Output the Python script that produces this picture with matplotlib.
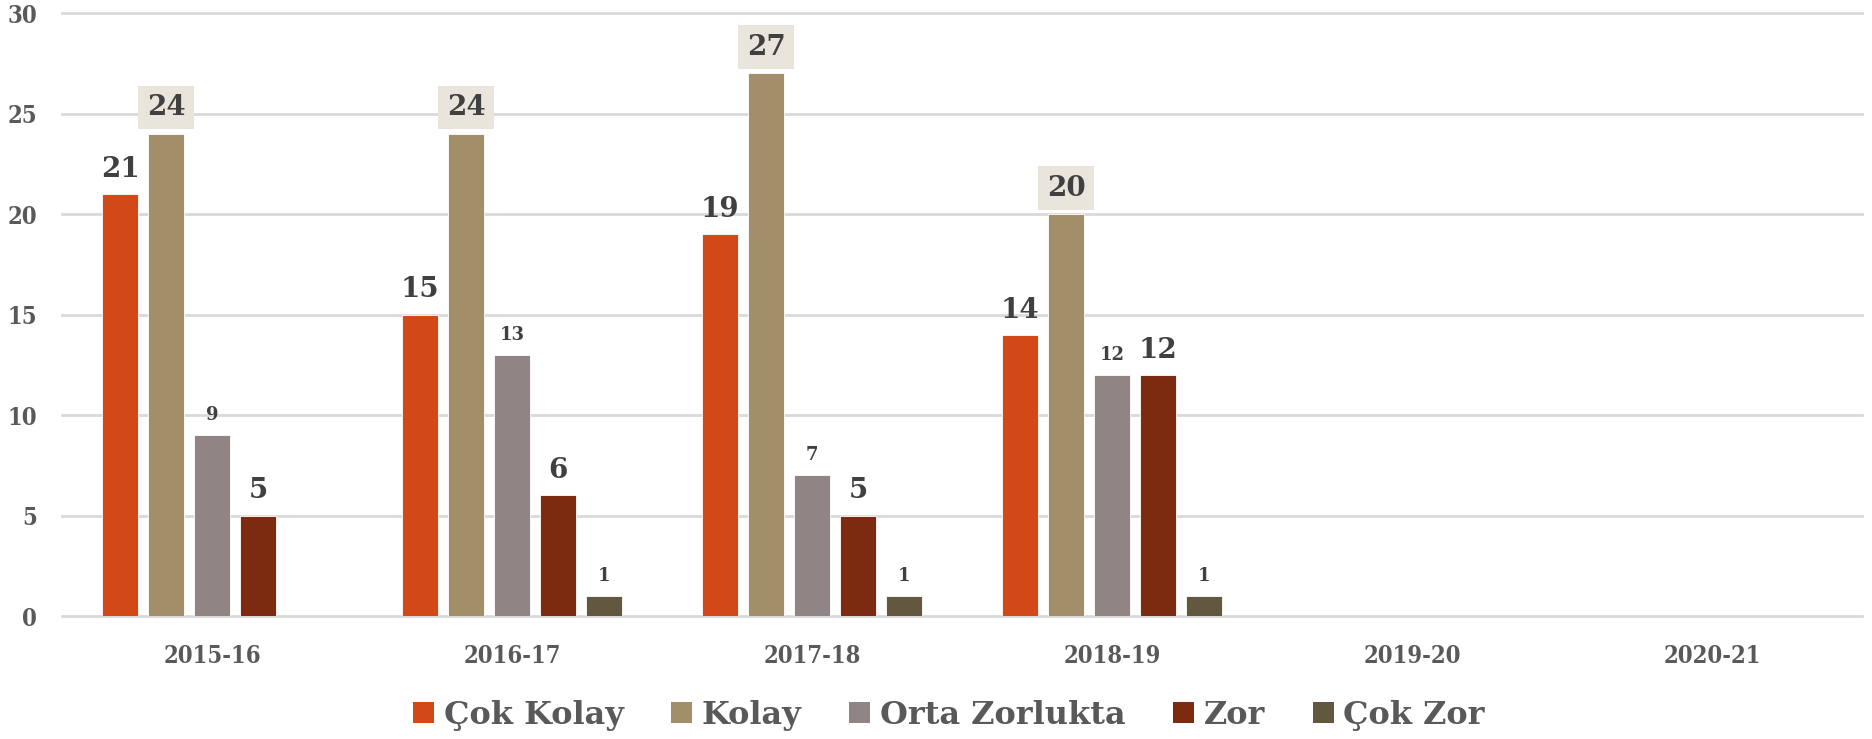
import numpy as np
import matplotlib
matplotlib.use("Agg")
import matplotlib.pyplot as plt
from matplotlib.patches import Patch

# --- data ---
years = ["2015-16", "2016-17", "2017-18", "2018-19", "2019-20", "2020-21"]
series = ["Çok Kolay", "Kolay", "Orta Zorlukta", "Zor", "Çok Zor"]
cok_kolay = [21, 15, 19, 14, np.nan, np.nan]
kolay = [24, 24, 27, 20, np.nan, np.nan]
orta = [9, 13, 7, 12, np.nan, np.nan]
zor = [5, 6, 5, 12, np.nan, np.nan]
cok_zor = [np.nan, 1, 1, 1, np.nan, np.nan]
values = [cok_kolay, kolay, orta, zor, cok_zor]

# --- style ---
COLORS = ["#d24817", "#a38e6a", "#918485", "#7d2b10", "#625840"]
C_GRID = "#d9d9d9"
C_TICK = "#595959"
C_LABEL = "#404040"
FONT = "DejaVu Serif"
# label style per series: (fontsize, boxed)
LABEL_STYLE = [(20, False), (20, True), (13, False), (20, False), (13, False)]

fig = plt.figure(figsize=(18.72, 7.39), dpi=100)
ax = fig.add_axes([0.0331, 0.1664, 0.9616, 0.816])

x = np.arange(len(years))
pitch = 0.153
width = 0.12
for i, (vals, col) in enumerate(zip(values, COLORS)):
    off = (i - 2) * pitch
    ax.bar(x + off, vals, width=width, color=col, edgecolor="white",
           linewidth=0.6, zorder=3, label=series[i])
    fs, boxed = LABEL_STYLE[i]
    for xi, v in zip(x, vals):
        if np.isnan(v):
            continue
        kw = {}
        if boxed:
            kw["bbox"] = dict(boxstyle="square,pad=0.3", fc="#e9e5dc", ec="none")
        ax.annotate(f"{int(v)}", (xi + off, v), xytext=(0, 9 if boxed else 8),
                    textcoords="offset points", ha="center", va="bottom",
                    fontsize=fs, fontweight="bold", color=C_LABEL,
                    family=FONT, zorder=5, **kw)

ax.set_xlim(-0.5, len(years) - 0.5)
ax.set_ylim(0, 30)
ax.set_yticks(range(0, 31, 5))
ax.set_xticks(x)
ax.set_xticklabels(years)
ax.grid(axis="y", color=C_GRID, linewidth=2, zorder=0)
ax.set_axisbelow(True)
for gl in ax.get_ygridlines():
    gl.set_clip_on(False)
for s in ax.spines.values():
    s.set_visible(False)
ax.tick_params(length=0, colors=C_TICK, labelsize=17)
ax.tick_params(axis="x", pad=20)
ax.tick_params(axis="y", pad=18)
for lab in ax.get_xticklabels() + ax.get_yticklabels():
    lab.set_family(FONT)
    lab.set_fontweight("bold")
    lab.set_fontstretch("condensed")

handles = [Patch(facecolor=c, label=s) for c, s in zip(COLORS, series)]
leg = fig.legend(handles=handles, loc="center", bbox_to_anchor=(0.507, 0.032),
                 ncol=5, frameon=False, handlelength=0.65, handleheight=0.65,
                 handletextpad=0.3, columnspacing=1.5,
                 prop=dict(family=FONT, weight="bold", size=23))
for t in leg.get_texts():
    t.set_color(C_TICK)

fig.savefig("out.png", dpi=100, facecolor="white")
